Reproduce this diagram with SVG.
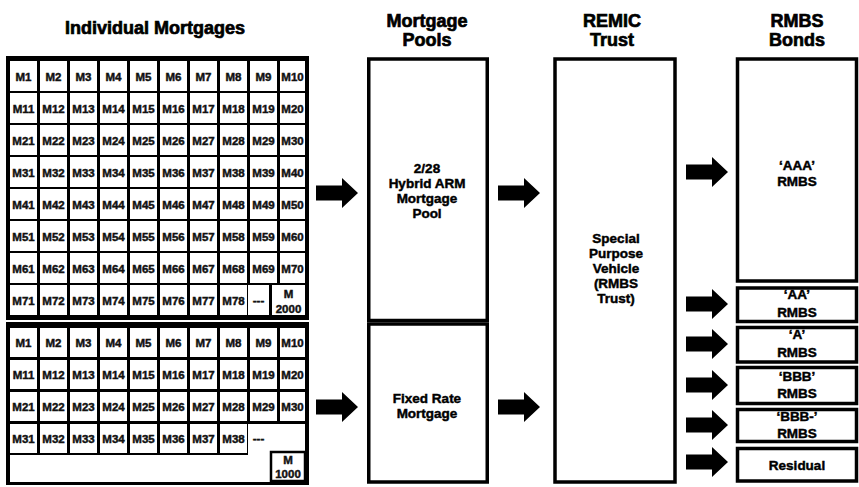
<svg xmlns="http://www.w3.org/2000/svg" width="859" height="487" viewBox="0 0 859 487">
<style>
.bk{fill:#000}
.cell rect{fill:#fff}
.cell text,.small{font-family:"Liberation Sans",Arial,sans-serif;font-weight:bold;font-size:11.5px;text-anchor:middle;fill:#111;stroke:#111;stroke-width:0.45}
.box{fill:#fff;stroke:#000;stroke-width:3.5}
.title{font-family:"Liberation Sans",Arial,sans-serif;font-weight:bold;font-size:18px;text-anchor:middle;fill:#000;stroke:#000;stroke-width:0.7}
.lbl{font-family:"Liberation Sans",Arial,sans-serif;font-weight:bold;font-size:13.5px;text-anchor:middle;fill:#000;stroke:#000;stroke-width:0.45}
.arrow{fill:#000}
</style>
<defs>
<path id="arr" d="M0,-7.5 H26 V-15 L42,0 L26,15 V7.5 H0 Z"/>
</defs>
<rect width="859" height="487" fill="#fff"/>

<g id="titles">
<text class="title" x="155" y="34">Individual Mortgages</text>
<text class="title" x="427" y="27">Mortgage</text>
<text class="title" x="427" y="46">Pools</text>
<text class="title" x="612" y="27">REMIC</text>
<text class="title" x="612" y="46">Trust</text>
<text class="title" x="797" y="27">RMBS</text>
<text class="title" x="797" y="46">Bonds</text>
</g>

<g id="grid-arm">
<rect class="bk" x="6" y="56" width="303" height="264"/>
<g transform="translate(0,61)">
<g class="cell"><rect x="10" width="27" height="30"/><text x="23.5" y="19.5">M1</text></g>
<g class="cell"><rect x="40" width="27" height="30"/><text x="53.5" y="19.5">M2</text></g>
<g class="cell"><rect x="70" width="27" height="30"/><text x="83.5" y="19.5">M3</text></g>
<g class="cell"><rect x="100" width="27" height="30"/><text x="113.5" y="19.5">M4</text></g>
<g class="cell"><rect x="130" width="27" height="30"/><text x="143.5" y="19.5">M5</text></g>
<g class="cell"><rect x="160" width="27" height="30"/><text x="173.5" y="19.5">M6</text></g>
<g class="cell"><rect x="190" width="27" height="30"/><text x="203.5" y="19.5">M7</text></g>
<g class="cell"><rect x="220" width="27" height="30"/><text x="233.5" y="19.5">M8</text></g>
<g class="cell"><rect x="250" width="27" height="30"/><text x="263.5" y="19.5">M9</text></g>
<g class="cell"><rect x="280" width="25" height="30"/><text x="292.5" y="19.5">M10</text></g>
</g>
<g transform="translate(0,93)">
<g class="cell"><rect x="10" width="27" height="30"/><text x="23.5" y="19.5">M11</text></g>
<g class="cell"><rect x="40" width="27" height="30"/><text x="53.5" y="19.5">M12</text></g>
<g class="cell"><rect x="70" width="27" height="30"/><text x="83.5" y="19.5">M13</text></g>
<g class="cell"><rect x="100" width="27" height="30"/><text x="113.5" y="19.5">M14</text></g>
<g class="cell"><rect x="130" width="27" height="30"/><text x="143.5" y="19.5">M15</text></g>
<g class="cell"><rect x="160" width="27" height="30"/><text x="173.5" y="19.5">M16</text></g>
<g class="cell"><rect x="190" width="27" height="30"/><text x="203.5" y="19.5">M17</text></g>
<g class="cell"><rect x="220" width="27" height="30"/><text x="233.5" y="19.5">M18</text></g>
<g class="cell"><rect x="250" width="27" height="30"/><text x="263.5" y="19.5">M19</text></g>
<g class="cell"><rect x="280" width="25" height="30"/><text x="292.5" y="19.5">M20</text></g>
</g>
<g transform="translate(0,125)">
<g class="cell"><rect x="10" width="27" height="30"/><text x="23.5" y="19.5">M21</text></g>
<g class="cell"><rect x="40" width="27" height="30"/><text x="53.5" y="19.5">M22</text></g>
<g class="cell"><rect x="70" width="27" height="30"/><text x="83.5" y="19.5">M23</text></g>
<g class="cell"><rect x="100" width="27" height="30"/><text x="113.5" y="19.5">M24</text></g>
<g class="cell"><rect x="130" width="27" height="30"/><text x="143.5" y="19.5">M25</text></g>
<g class="cell"><rect x="160" width="27" height="30"/><text x="173.5" y="19.5">M26</text></g>
<g class="cell"><rect x="190" width="27" height="30"/><text x="203.5" y="19.5">M27</text></g>
<g class="cell"><rect x="220" width="27" height="30"/><text x="233.5" y="19.5">M28</text></g>
<g class="cell"><rect x="250" width="27" height="30"/><text x="263.5" y="19.5">M29</text></g>
<g class="cell"><rect x="280" width="25" height="30"/><text x="292.5" y="19.5">M30</text></g>
</g>
<g transform="translate(0,157)">
<g class="cell"><rect x="10" width="27" height="30"/><text x="23.5" y="19.5">M31</text></g>
<g class="cell"><rect x="40" width="27" height="30"/><text x="53.5" y="19.5">M32</text></g>
<g class="cell"><rect x="70" width="27" height="30"/><text x="83.5" y="19.5">M33</text></g>
<g class="cell"><rect x="100" width="27" height="30"/><text x="113.5" y="19.5">M34</text></g>
<g class="cell"><rect x="130" width="27" height="30"/><text x="143.5" y="19.5">M35</text></g>
<g class="cell"><rect x="160" width="27" height="30"/><text x="173.5" y="19.5">M36</text></g>
<g class="cell"><rect x="190" width="27" height="30"/><text x="203.5" y="19.5">M37</text></g>
<g class="cell"><rect x="220" width="27" height="30"/><text x="233.5" y="19.5">M38</text></g>
<g class="cell"><rect x="250" width="27" height="30"/><text x="263.5" y="19.5">M39</text></g>
<g class="cell"><rect x="280" width="25" height="30"/><text x="292.5" y="19.5">M40</text></g>
</g>
<g transform="translate(0,189)">
<g class="cell"><rect x="10" width="27" height="30"/><text x="23.5" y="19.5">M41</text></g>
<g class="cell"><rect x="40" width="27" height="30"/><text x="53.5" y="19.5">M42</text></g>
<g class="cell"><rect x="70" width="27" height="30"/><text x="83.5" y="19.5">M43</text></g>
<g class="cell"><rect x="100" width="27" height="30"/><text x="113.5" y="19.5">M44</text></g>
<g class="cell"><rect x="130" width="27" height="30"/><text x="143.5" y="19.5">M45</text></g>
<g class="cell"><rect x="160" width="27" height="30"/><text x="173.5" y="19.5">M46</text></g>
<g class="cell"><rect x="190" width="27" height="30"/><text x="203.5" y="19.5">M47</text></g>
<g class="cell"><rect x="220" width="27" height="30"/><text x="233.5" y="19.5">M48</text></g>
<g class="cell"><rect x="250" width="27" height="30"/><text x="263.5" y="19.5">M49</text></g>
<g class="cell"><rect x="280" width="25" height="30"/><text x="292.5" y="19.5">M50</text></g>
</g>
<g transform="translate(0,221)">
<g class="cell"><rect x="10" width="27" height="30"/><text x="23.5" y="19.5">M51</text></g>
<g class="cell"><rect x="40" width="27" height="30"/><text x="53.5" y="19.5">M52</text></g>
<g class="cell"><rect x="70" width="27" height="30"/><text x="83.5" y="19.5">M53</text></g>
<g class="cell"><rect x="100" width="27" height="30"/><text x="113.5" y="19.5">M54</text></g>
<g class="cell"><rect x="130" width="27" height="30"/><text x="143.5" y="19.5">M55</text></g>
<g class="cell"><rect x="160" width="27" height="30"/><text x="173.5" y="19.5">M56</text></g>
<g class="cell"><rect x="190" width="27" height="30"/><text x="203.5" y="19.5">M57</text></g>
<g class="cell"><rect x="220" width="27" height="30"/><text x="233.5" y="19.5">M58</text></g>
<g class="cell"><rect x="250" width="27" height="30"/><text x="263.5" y="19.5">M59</text></g>
<g class="cell"><rect x="280" width="25" height="30"/><text x="292.5" y="19.5">M60</text></g>
</g>
<g transform="translate(0,253)">
<g class="cell"><rect x="10" width="27" height="30"/><text x="23.5" y="19.5">M61</text></g>
<g class="cell"><rect x="40" width="27" height="30"/><text x="53.5" y="19.5">M62</text></g>
<g class="cell"><rect x="70" width="27" height="30"/><text x="83.5" y="19.5">M63</text></g>
<g class="cell"><rect x="100" width="27" height="30"/><text x="113.5" y="19.5">M64</text></g>
<g class="cell"><rect x="130" width="27" height="30"/><text x="143.5" y="19.5">M65</text></g>
<g class="cell"><rect x="160" width="27" height="30"/><text x="173.5" y="19.5">M66</text></g>
<g class="cell"><rect x="190" width="27" height="30"/><text x="203.5" y="19.5">M67</text></g>
<g class="cell"><rect x="220" width="27" height="30"/><text x="233.5" y="19.5">M68</text></g>
<g class="cell"><rect x="250" width="27" height="30"/><text x="263.5" y="19.5">M69</text></g>
<g class="cell"><rect x="280" width="25" height="30"/><text x="292.5" y="19.5">M70</text></g>
</g>
<g transform="translate(0,285)">
<g class="cell"><rect x="10" width="27" height="30"/><text x="23.5" y="19.5">M71</text></g>
<g class="cell"><rect x="40" width="27" height="30"/><text x="53.5" y="19.5">M72</text></g>
<g class="cell"><rect x="70" width="27" height="30"/><text x="83.5" y="19.5">M73</text></g>
<g class="cell"><rect x="100" width="27" height="30"/><text x="113.5" y="19.5">M74</text></g>
<g class="cell"><rect x="130" width="27" height="30"/><text x="143.5" y="19.5">M75</text></g>
<g class="cell"><rect x="160" width="27" height="30"/><text x="173.5" y="19.5">M76</text></g>
<g class="cell"><rect x="190" width="27" height="30"/><text x="203.5" y="19.5">M77</text></g>
<g class="cell"><rect x="220" width="27" height="30"/><text x="233.5" y="19.5">M78</text></g>
<g class="cell"><rect x="248" width="21" height="30"/><text x="258.5" y="19">---</text></g>
<g class="cell"><rect x="272" width="33" height="30"/><text x="288.5" y="13">M</text><text x="288.5" y="27.5">2000</text></g>
</g>
</g>

<g id="grid-fixed">
<rect class="bk" x="6" y="322" width="303" height="163"/>
<rect fill="#fff" x="10" y="455" width="295" height="27"/>
<rect fill="#fff" x="248" y="424" width="57" height="58"/>
<text class="small" x="258.5" y="442">---</text>
<g transform="translate(0,328)">
<g class="cell"><rect x="10" width="27" height="29"/><text x="23.5" y="18.5">M1</text></g>
<g class="cell"><rect x="40" width="27" height="29"/><text x="53.5" y="18.5">M2</text></g>
<g class="cell"><rect x="70" width="27" height="29"/><text x="83.5" y="18.5">M3</text></g>
<g class="cell"><rect x="100" width="27" height="29"/><text x="113.5" y="18.5">M4</text></g>
<g class="cell"><rect x="130" width="27" height="29"/><text x="143.5" y="18.5">M5</text></g>
<g class="cell"><rect x="160" width="27" height="29"/><text x="173.5" y="18.5">M6</text></g>
<g class="cell"><rect x="190" width="27" height="29"/><text x="203.5" y="18.5">M7</text></g>
<g class="cell"><rect x="220" width="27" height="29"/><text x="233.5" y="18.5">M8</text></g>
<g class="cell"><rect x="250" width="27" height="29"/><text x="263.5" y="18.5">M9</text></g>
<g class="cell"><rect x="280" width="25" height="29"/><text x="292.5" y="18.5">M10</text></g>
</g>
<g transform="translate(0,360)">
<g class="cell"><rect x="10" width="27" height="29"/><text x="23.5" y="18.5">M11</text></g>
<g class="cell"><rect x="40" width="27" height="29"/><text x="53.5" y="18.5">M12</text></g>
<g class="cell"><rect x="70" width="27" height="29"/><text x="83.5" y="18.5">M13</text></g>
<g class="cell"><rect x="100" width="27" height="29"/><text x="113.5" y="18.5">M14</text></g>
<g class="cell"><rect x="130" width="27" height="29"/><text x="143.5" y="18.5">M15</text></g>
<g class="cell"><rect x="160" width="27" height="29"/><text x="173.5" y="18.5">M16</text></g>
<g class="cell"><rect x="190" width="27" height="29"/><text x="203.5" y="18.5">M17</text></g>
<g class="cell"><rect x="220" width="27" height="29"/><text x="233.5" y="18.5">M18</text></g>
<g class="cell"><rect x="250" width="27" height="29"/><text x="263.5" y="18.5">M19</text></g>
<g class="cell"><rect x="280" width="25" height="29"/><text x="292.5" y="18.5">M20</text></g>
</g>
<g transform="translate(0,392)">
<g class="cell"><rect x="10" width="27" height="29"/><text x="23.5" y="18.5">M21</text></g>
<g class="cell"><rect x="40" width="27" height="29"/><text x="53.5" y="18.5">M22</text></g>
<g class="cell"><rect x="70" width="27" height="29"/><text x="83.5" y="18.5">M23</text></g>
<g class="cell"><rect x="100" width="27" height="29"/><text x="113.5" y="18.5">M24</text></g>
<g class="cell"><rect x="130" width="27" height="29"/><text x="143.5" y="18.5">M25</text></g>
<g class="cell"><rect x="160" width="27" height="29"/><text x="173.5" y="18.5">M26</text></g>
<g class="cell"><rect x="190" width="27" height="29"/><text x="203.5" y="18.5">M27</text></g>
<g class="cell"><rect x="220" width="27" height="29"/><text x="233.5" y="18.5">M28</text></g>
<g class="cell"><rect x="250" width="27" height="29"/><text x="263.5" y="18.5">M29</text></g>
<g class="cell"><rect x="280" width="25" height="29"/><text x="292.5" y="18.5">M30</text></g>
</g>
<g transform="translate(0,424)">
<g class="cell"><rect x="10" width="27" height="29"/><text x="23.5" y="18.5">M31</text></g>
<g class="cell"><rect x="40" width="27" height="29"/><text x="53.5" y="18.5">M32</text></g>
<g class="cell"><rect x="70" width="27" height="29"/><text x="83.5" y="18.5">M33</text></g>
<g class="cell"><rect x="100" width="27" height="29"/><text x="113.5" y="18.5">M34</text></g>
<g class="cell"><rect x="130" width="27" height="29"/><text x="143.5" y="18.5">M35</text></g>
<g class="cell"><rect x="160" width="27" height="29"/><text x="173.5" y="18.5">M36</text></g>
<g class="cell"><rect x="190" width="27" height="29"/><text x="203.5" y="18.5">M37</text></g>
<g class="cell"><rect x="220" width="27" height="29"/><text x="233.5" y="18.5">M38</text></g>
</g>
<g id="fM1000"><rect x="271" y="452" width="34" height="29" fill="#fff" stroke="#000" stroke-width="2.5"/><text class="small" x="288" y="464">M</text><text class="small" x="288" y="478">1000</text></g>
</g>

<g id="pool-arm">
<rect class="box" x="368.75" y="59" width="118.5" height="261.5"/>
<text class="lbl" x="427" y="173">2/28</text>
<text class="lbl" x="427" y="188">Hybrid ARM</text>
<text class="lbl" x="427" y="203">Mortgage</text>
<text class="lbl" x="427" y="218">Pool</text>
</g>
<g id="pool-fixed">
<rect class="box" x="368.75" y="324" width="118.5" height="158"/>
<text class="lbl" x="427" y="403">Fixed Rate</text>
<text class="lbl" x="427" y="418">Mortgage</text>
</g>

<g id="remic-trust">
<rect class="box" x="555" y="59" width="120" height="423"/>
<text class="lbl" x="616" y="243">Special</text>
<text class="lbl" x="616" y="258">Purpose</text>
<text class="lbl" x="616" y="273">Vehicle</text>
<text class="lbl" x="616" y="288">(RMBS</text>
<text class="lbl" x="616" y="303">Trust)</text>
</g>

<g id="rmbs-aaa">
<rect class="box" x="737.5" y="59" width="119" height="222"/>
<text class="lbl" x="797" y="170">‘AAA’</text>
<text class="lbl" x="797" y="186">RMBS</text>
</g>
<g id="rmbs-aa">
<rect class="box" x="737.5" y="288" width="119" height="33.5"/>
<text class="lbl" x="797" y="299">‘AA’</text>
<text class="lbl" x="797" y="317">RMBS</text>
</g>
<g id="rmbs-a">
<rect class="box" x="737.5" y="327.5" width="119" height="34.5"/>
<text class="lbl" x="797" y="339">‘A’</text>
<text class="lbl" x="797" y="357">RMBS</text>
</g>
<g id="rmbs-bbb">
<rect class="box" x="737.5" y="367.5" width="119" height="36"/>
<text class="lbl" x="797" y="381">‘BBB’</text>
<text class="lbl" x="797" y="398">RMBS</text>
</g>
<g id="rmbs-bbb-minus">
<rect class="box" x="737.5" y="409.5" width="119" height="32"/>
<text class="lbl" x="797" y="421">‘BBB-’</text>
<text class="lbl" x="797" y="438">RMBS</text>
</g>
<g id="rmbs-residual">
<rect class="box" x="737.5" y="448.5" width="119" height="32.5"/>
<text class="lbl" x="797" y="470">Residual</text>
</g>

<g id="connectors" class="arrow">
<use href="#arr" x="316" y="193"/>
<use href="#arr" x="316" y="407"/>
<use href="#arr" x="498" y="193"/>
<use href="#arr" x="498" y="407"/>
<use href="#arr" x="686" y="172"/>
<use href="#arr" x="686" y="304"/>
<use href="#arr" x="686" y="344"/>
<use href="#arr" x="686" y="385"/>
<use href="#arr" x="686" y="425"/>
<use href="#arr" x="686" y="462"/>
</g>
</svg>
